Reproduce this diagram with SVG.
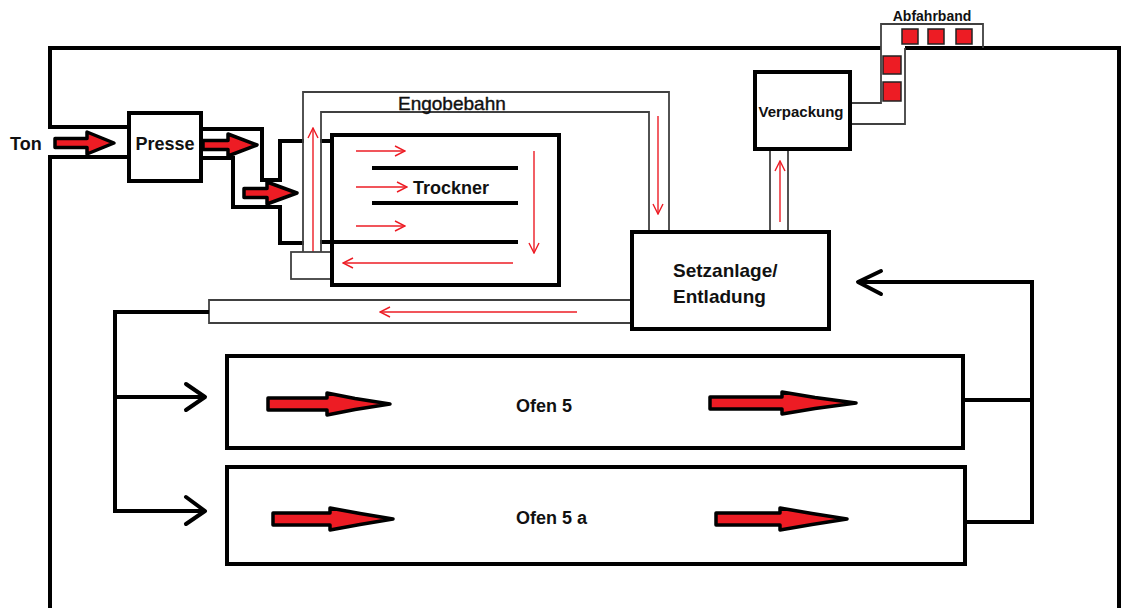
<svg xmlns="http://www.w3.org/2000/svg" width="1122" height="608" viewBox="0 0 1122 608">
<style>
.thick{fill:none;stroke:#000;stroke-width:4;stroke-linejoin:miter}
.box{fill:#fff;stroke:#000;stroke-width:4}
.thin{fill:none;stroke:#404040;stroke-width:1.8}
.thinbox{fill:#fff;stroke:#404040;stroke-width:1.8}
.rline{fill:none;stroke:#ED1C24;stroke-width:1.4;marker-end:url(#rh)}
.bigarrow{fill:#ED1C24;stroke:#000;stroke-width:3.5;stroke-linejoin:round}
.sq{fill:#ED1C24;stroke:#222;stroke-width:1.5}
.chev{fill:none;stroke:#000;stroke-width:4;stroke-linecap:round;stroke-linejoin:round}
.t{font-family:"Liberation Sans",Arial,sans-serif;font-weight:bold;fill:#111}
.tn{font-family:"Liberation Sans",Arial,sans-serif;font-weight:normal;fill:#111;stroke:#111;stroke-width:0.4}
</style>
<defs>
<marker id="rh" viewBox="0 0 12 12" refX="11" refY="6" markerWidth="12" markerHeight="12" markerUnits="userSpaceOnUse" orient="auto">
<path d="M1,1 L11,6 L1,11" fill="none" stroke="#ED1C24" stroke-width="1.4"/>
</marker>
</defs>
<rect width="1122" height="608" fill="#fff"/>

<g id="frame">
<path class="thick" d="M50,608 V157 H129"/>
<path class="thick" d="M129,127 H50 V48 H881"/>
<path class="thick" d="M905,48 H1119 V608"/>
</g>

<g id="abfahrband">
<path class="thin" d="M850,103 H881 V24 H983 V48"/>
<path class="thin" d="M850,124 H905 V48"/>
<rect class="sq" x="902" y="29" width="16" height="15"/>
<rect class="sq" x="928" y="29" width="16" height="15"/>
<rect class="sq" x="956" y="29" width="16" height="15"/>
<rect class="sq" x="883" y="56" width="18" height="18"/>
<rect class="sq" x="883" y="82" width="18" height="19"/>
<text class="t" x="932" y="21" font-size="14" text-anchor="middle">Abfahrband</text>
</g>

<g id="connectors">
<path class="thick" d="M201,129 H262 V180 H280 V141 H304"/>
<path class="thick" d="M320,141 H332"/>
<path class="thick" d="M201,158 H233 V207 H280 V243 H304"/>
<path class="thick" d="M320,242 H518"/>
<path class="thin" d="M303,252 V92 H669 V231"/>
<path class="thin" d="M321,252 V112 H649 V231"/>
<path class="rline" d="M313,258 V128"/>
<path class="rline" d="M658,116 V214"/>
<path class="thin" d="M770,149 V231"/>
<path class="thin" d="M788,149 V231"/>
<path class="rline" d="M780,222 V161"/>
<path class="thin" d="M632,300 H209 V323 H632"/>
<path class="rline" d="M577,312 H380"/>
<path class="thick" d="M209,312 H115 V511 H205"/>
<path class="thick" d="M115,397 H205"/>
<path class="chev" d="M186,384 L205,397 L186,410"/>
<path class="chev" d="M186,497 L205,511 L186,524"/>
<path class="thick" d="M963,400 H1032"/>
<path class="thick" d="M965,522 H1032 V282 H858"/>
<path class="chev" d="M881,271 L858,282 L881,294"/>
</g>

<g id="ton">
<text class="t" x="10" y="149.5" font-size="18">Ton</text>
<path class="bigarrow" d="M55,138.5 H87 V132 L114,143 L87,154 V147.5 H55 Z"/>
</g>

<g id="presse">
<rect class="box" x="129" y="113" width="72" height="68" stroke-width="3.5"/>
<text class="t" x="165" y="149.5" font-size="18" text-anchor="middle">Presse</text>
<path class="bigarrow" d="M203,140.5 H228 V134 L257,145 L228,156 V149.5 H203 Z"/>
<path class="bigarrow" d="M244,188.5 H267 V182 L297,193 L267,204 V197.5 H244 Z"/>
</g>

<g id="trockner">
<rect class="thinbox" x="291" y="252" width="41" height="27"/>
<rect class="box" x="332" y="135" width="227" height="150"/>
<path class="thick" d="M332,242 H518 M372,168 H518 M372,203 H518"/>
<path class="rline" d="M356,151 H405"/>
<path class="rline" d="M356,187 H407"/>
<path class="rline" d="M356,226 H405"/>
<path class="rline" d="M534,151 V253"/>
<path class="rline" d="M513,263 H343"/>
<text class="t" x="413" y="193.5" font-size="18">Trockner</text>
</g>

<g id="engobebahn">
<text class="tn" x="398" y="109.5" font-size="19">Engobebahn</text>
</g>

<g id="verpackung">
<rect class="box" x="755" y="72" width="95" height="77"/>
<text class="t" x="801" y="117" font-size="15" text-anchor="middle">Verpackung</text>
</g>

<g id="setzanlage">
<rect class="box" x="632" y="232" width="197" height="97"/>
<text class="t" x="673" y="277" font-size="19">Setzanlage/</text>
<text class="t" x="673" y="303" font-size="19">Entladung</text>
</g>

<g id="ofen5">
<rect class="box" x="227" y="356" width="736" height="92" stroke-width="3.5"/>
<text class="t" x="516" y="411.5" font-size="18">Ofen 5</text>
<path class="bigarrow" d="M268,398 H327 V393 L355,398.5 L390,404 L355,409.5 L327,415 V410 H268 Z"/>
<path class="bigarrow" d="M710,397 H782 V392 L815,397.5 L856,403 L815,408.5 L782,414 V409 H710 Z"/>
</g>

<g id="ofen5a">
<rect class="box" x="227" y="467" width="738" height="97" stroke-width="3.5"/>
<text class="t" x="516" y="523.5" font-size="18">Ofen 5 a</text>
<path class="bigarrow" d="M273,513 H330 V508 L360,513.5 L393,519 L360,524.5 L330,530 V525 H273 Z"/>
<path class="bigarrow" d="M716,513 H780 V508 L812,513.5 L847,519 L812,524.5 L780,530 V525 H716 Z"/>
</g>
</svg>
